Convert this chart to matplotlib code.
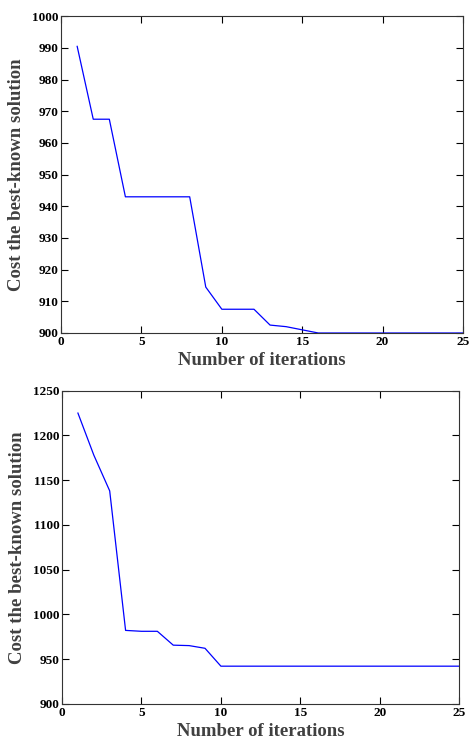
import matplotlib
matplotlib.use("Agg")
import matplotlib.pyplot as plt

# iterations shared by both runs
iterations = list(range(1, 26))

# best-known cost per iteration, first instance
cost_run1 = [990.5, 967.5, 967.5, 943, 943, 943, 943, 943, 914.5, 907.5,
             907.5, 907.5, 902.5, 902, 901, 900, 900, 900, 900, 900,
             900, 900, 900, 900, 900]

# best-known cost per iteration, second instance
cost_run2 = [1225, 1178, 1138, 982, 981, 981, 965.5, 965, 962, 942,
             942, 942, 942, 942, 942, 942, 942, 942, 942, 942,
             942, 942, 942, 942, 942]

y_ticks_run1 = list(range(900, 1001, 10))
y_ticks_run2 = list(range(900, 1251, 50))
x_ticks = [0, 5, 10, 15, 20, 25]

plt.rcParams["font.family"] = "Liberation Serif"
plt.rcParams["font.weight"] = "bold"

fig = plt.figure(figsize=(4.7, 7.4), dpi=100)
ax1 = fig.add_axes([0.130, 0.550, 0.855, 0.428])
ax2 = fig.add_axes([0.132, 0.049, 0.845, 0.423])


def style_axis(ax, y_ticks):
    ax.set_xlim(0, 25)
    ax.set_ylim(y_ticks[0], y_ticks[-1])
    ax.set_xticks(x_ticks)
    ax.set_yticks(y_ticks)
    ax.tick_params(direction="in", top=True, right=True, length=5,
                   width=0.8, labelsize=9.5, pad=2)
    for lab in ax.get_xticklabels() + ax.get_yticklabels():
        lab.set_fontweight("bold")
    for sp in ax.spines.values():
        sp.set_linewidth(0.8)
        sp.set_color("#333333")
    ax.set_xlabel("Number of iterations", fontsize=13.5, fontweight="bold",
                  color="#404040", labelpad=3)
    ax.set_ylabel("Cost the best-known solution", fontsize=13.5,
                  fontweight="bold", color="#404040", labelpad=5)


ax1.plot(iterations, cost_run1, color="#0000ff", linewidth=0.9)
style_axis(ax1, y_ticks_run1)

ax2.plot(iterations, cost_run2, color="#0000ff", linewidth=0.9)
style_axis(ax2, y_ticks_run2)

fig.savefig("out.png", dpi=100)
